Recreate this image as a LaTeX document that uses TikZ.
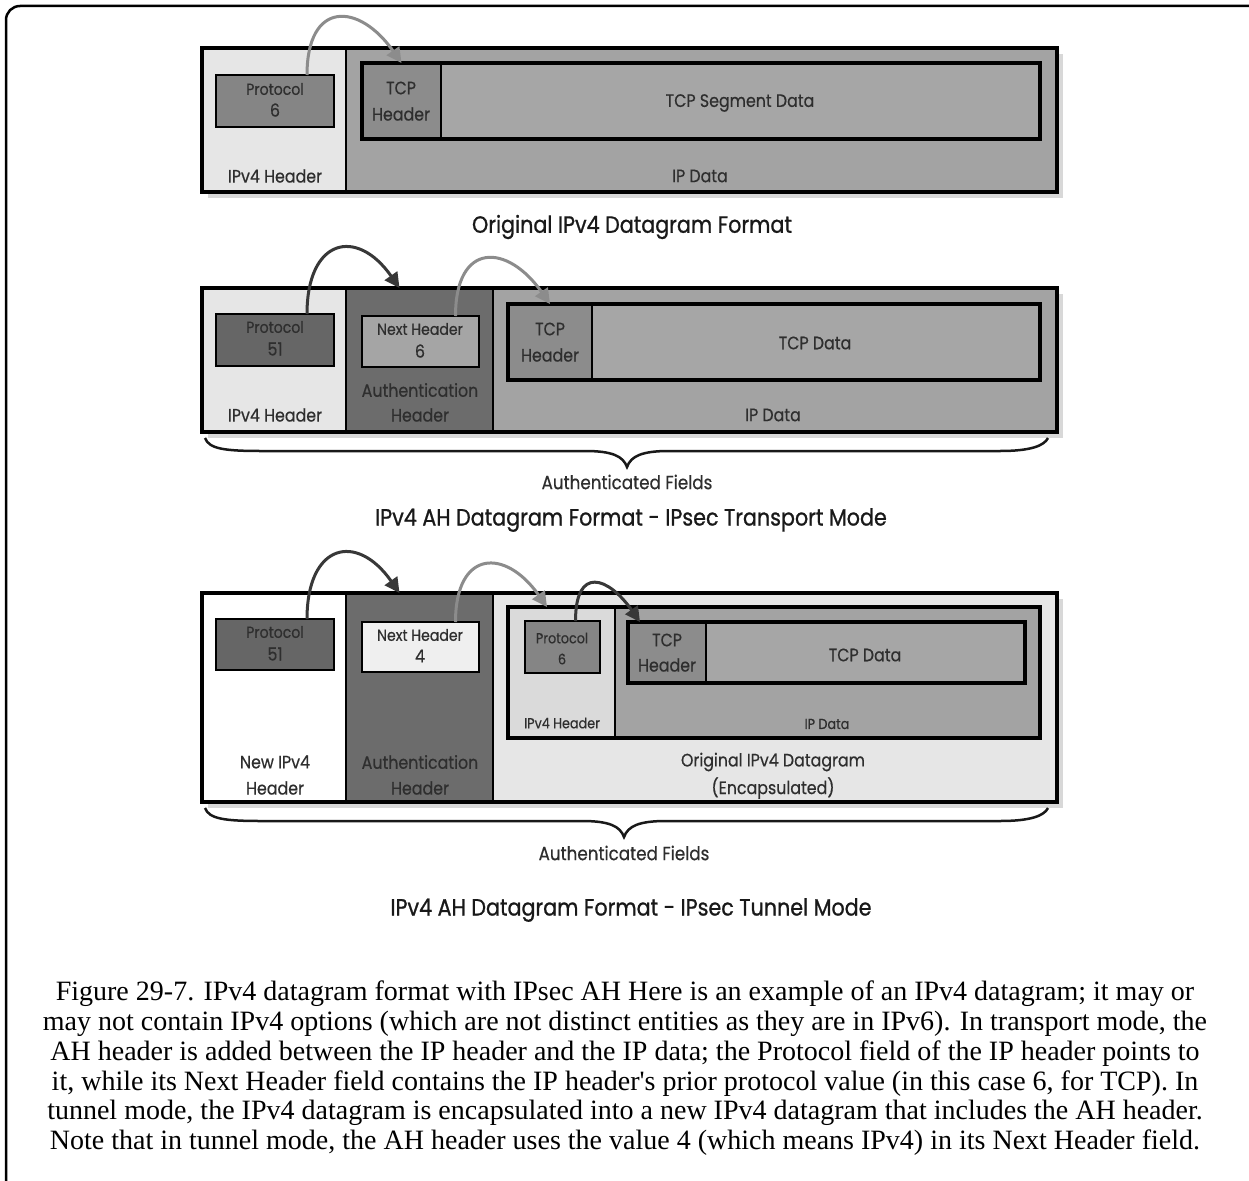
\documentclass[tikz,border=0pt]{standalone}
\usepackage{fontspec}
\setmainfont{Liberation Serif}
\newfontfamily\diagfont[FakeStretch=0.88,FakeBold=0.5]{Poppins}
\newfontfamily\diagtitlefont[FakeStretch=0.88,FakeBold=0.9]{Poppins}
\usetikzlibrary{arrows.meta}
\definecolor{lightg}{HTML}{E6E6E6}
\definecolor{midg}{HTML}{A3A3A3}
\definecolor{tcpg}{HTML}{A6A6A6}
\definecolor{hdrg}{HTML}{8C8C8C}
\definecolor{darkg}{HTML}{6C6C6C}
\definecolor{protog}{HTML}{666666}
\definecolor{protoa}{HTML}{858585}
\definecolor{nhsix}{HTML}{A5A5A5}
\definecolor{nhfour}{HTML}{EFEFEF}
\definecolor{txtg}{HTML}{2E2E2E}
\definecolor{arrdark}{HTML}{383838}
\definecolor{arrlight}{HTML}{8C8C8C}
\definecolor{shadowg}{HTML}{D8D8D8}
\begin{document}
\begin{tikzpicture}[x=1pt,y=-1pt,
 region/.style={draw=black, line width=1.2pt, anchor=north west, inner sep=0pt, outer sep=0pt},
 outerbox/.style={draw=black, line width=3.5pt, anchor=north west, inner sep=0pt, outer sep=0pt},
 field/.style={draw=black, line width=2pt, anchor=north west, inner sep=0pt, outer sep=0pt},
 tcpbox/.style={draw=black, line width=3.2pt, anchor=north west, inner sep=0pt, outer sep=0pt},
 lbl/.style={text=txtg, font=\diagfont\fontsize{18}{20}\selectfont, inner sep=0pt},
 smalllbl/.style={text=txtg, font=\diagfont\fontsize{16}{18}\selectfont, inner sep=0pt},
 tinylbl/.style={text=txtg, font=\diagfont\fontsize{14.5}{16}\selectfont, inner sep=0pt},
 numlbl/.style={text=txtg, font=\diagfont\fontsize{18}{20}\selectfont, inner sep=0pt},
 ttl/.style={text=black!90, font=\diagtitlefont\fontsize{23.5}{26}\selectfont, inner sep=0pt},
 captxt/.style={font=\fontsize{28}{31}\selectfont, inner sep=0pt},
 ptrdark/.style={line width=3pt, draw=arrdark, -{Triangle[length=15pt,width=15pt]}},
 ptrlight/.style={line width=3pt, draw=arrlight, -{Triangle[length=15pt,width=15pt]}},
 bracestyle/.style={line width=2.5pt, draw=black!90}
]
\useasboundingbox (0,0) rectangle (1249,1180);
\fill[white] (0,0) rectangle (1249,1180);
\draw[line width=2.5pt, rounded corners=14pt] (6,1184) -- (6,6) -- (1253,6);

% ---------------- Section 1 ----------------
\fill[shadowg] (208,54) rectangle (1063,198);
\node[region, fill=lightg, minimum width=144, minimum height=144] (hdr1) at (202,48) {};
\node[region, fill=midg, minimum width=711, minimum height=144] (ipd1) at (346,48) {};
\node[outerbox, minimum width=855, minimum height=144] (outer1) at (202,48) {};
\node[field, fill=protoa, minimum width=118, minimum height=52] (proto1) at (216,75) {};
\node[tcpbox, fill=tcpg, minimum width=678, minimum height=76] (tcp1) at (362,63) {};
\node[region, fill=hdrg, minimum width=79, minimum height=76] (tcph1) at (362,63) {};
\node[tcpbox, minimum width=678, minimum height=76] (tcp1b) at (362,63) {};
\node[smalllbl] (p1a) at (275,89) {Protocol};
\node[numlbl] (p1b) at (275,110) {6};
\node[lbl] (t1a) at (401,88) {TCP};
\node[lbl] (t1b) at (401,114) {Header};
\node[lbl] (t1c) at (740,103) {TCP Segment Data};
\node[lbl] (h1) at (275,176) {IPv4 Header};
\node[lbl] (d1) at (700,176) {IP Data};
\node[ttl] (title1) at (632,227) {Original IPv4 Datagram Format};
\draw[ptrlight] ([xshift=32pt]proto1.north) to[out=90,in=125,looseness=2] (tcph1.north);

% ---------------- Section 2 ----------------
\fill[shadowg] (208,294) rectangle (1063,438);
\node[region, fill=lightg, minimum width=144, minimum height=144] (hdr2) at (202,288) {};
\node[region, fill=darkg, minimum width=147, minimum height=144] (ah2) at (346,288) {};
\node[region, fill=midg, minimum width=564, minimum height=144] (ipd2) at (493,288) {};
\node[outerbox, minimum width=855, minimum height=144] (outer2) at (202,288) {};
\node[field, fill=protog, minimum width=118, minimum height=52] (proto2) at (216,314) {};
\node[field, fill=nhsix, minimum width=117, minimum height=51] (nh2) at (362,316) {};
\node[tcpbox, fill=tcpg, minimum width=532, minimum height=76] (tcp2) at (508,304) {};
\node[region, fill=hdrg, minimum width=84, minimum height=76] (tcph2) at (508,304) {};
\node[tcpbox, minimum width=532, minimum height=76] (tcp2b) at (508,304) {};
\node[smalllbl] (p2a) at (275,327) {Protocol};
\node[numlbl] (p2b) at (275,349) {51};
\node[smalllbl] (n2a) at (420,329) {Next Header};
\node[numlbl] (n2b) at (420,351) {6};
\node[lbl] (a2a) at (420,390) {Authentication};
\node[lbl] (a2b) at (420,415) {Header};
\node[lbl] (h2) at (275,415) {IPv4 Header};
\node[lbl] (t2a) at (550,329) {TCP};
\node[lbl] (t2b) at (550,355) {Header};
\node[lbl] (t2c) at (815,343) {TCP Data};
\node[lbl] (d2) at (773,415) {IP Data};
\draw[ptrdark] ([xshift=32pt]proto2.north) to[out=90,in=125,looseness=2] ([xshift=-20pt]ah2.north);
\draw[ptrlight] ([xshift=35pt]nh2.north) to[out=90,in=125,looseness=2] (tcph2.north);
\draw[bracestyle] (205,438) .. controls (209,449) and (225,451) .. (262,451) -- (585,451) .. controls (612,451) and (623,456) .. (627,467) .. controls (631,456) and (642,451) .. (669,451) -- (1000,451) .. controls (1030,451) and (1044,446) .. (1048,438);
\node[lbl, font=\diagfont\fontsize{19}{21}\selectfont] (auth2) at (627,482) {Authenticated Fields};
\node[ttl] (title2) at (631,520) {IPv4 AH Datagram Format - IPsec Transport Mode};

% ---------------- Section 3 ----------------
\fill[shadowg] (208,599) rectangle (1063,808);
\node[region, fill=white, minimum width=144, minimum height=209] (nhdr3) at (202,593) {};
\node[region, fill=darkg, minimum width=147, minimum height=209] (ah3) at (346,593) {};
\node[region, fill=lightg, minimum width=564, minimum height=209] (orig3) at (493,593) {};
\node[outerbox, minimum width=855, minimum height=209] (outer3) at (202,593) {};
\node[field, fill=protog, minimum width=118, minimum height=51] (proto3) at (216,619) {};
\node[field, fill=nhfour, minimum width=117, minimum height=50] (nh3) at (362,622) {};
\node[region, fill=lightg!95!black, minimum width=107, minimum height=131] (ihdr3) at (508,607) {};
\node[region, fill=midg, minimum width=425, minimum height=131] (iipd3) at (615,607) {};
\node[tcpbox, minimum width=532, minimum height=131] (inner3) at (508,607) {};
\node[field, fill=protoa, minimum width=75, minimum height=52] (iproto3) at (525,621) {};
\node[tcpbox, fill=tcpg, minimum width=397, minimum height=61] (tcp3) at (628,622) {};
\node[region, fill=hdrg, minimum width=78, minimum height=61] (tcph3) at (628,622) {};
\node[tcpbox, minimum width=397, minimum height=61] (tcp3b) at (628,622) {};
\node[smalllbl] (p3a) at (275,632) {Protocol};
\node[numlbl] (p3b) at (275,654) {51};
\node[smalllbl] (n3a) at (420,635) {Next Header};
\node[numlbl] (n3b) at (420,656) {4};
\node[tinylbl] (ip3a) at (562,638) {Protocol};
\node[tinylbl] (ip3b) at (562,659) {6};
\node[tinylbl] (ih3) at (562,723) {IPv4 Header};
\node[lbl] (t3a) at (667,640) {TCP};
\node[lbl] (t3b) at (667,665) {Header};
\node[lbl] (t3c) at (865,655) {TCP Data};
\node[tinylbl] (d3) at (827,724) {IP Data};
\node[lbl] (nh3a) at (275,762) {New IPv4};
\node[lbl] (nh3b) at (275,788) {Header};
\node[lbl] (a3a) at (420,762) {Authentication};
\node[lbl] (a3b) at (420,788) {Header};
\node[lbl] (o3a) at (773,762) {Original IPv4 Datagram};
\node[lbl] (o3b) at (773,788) {(Encapsulated)};
\draw[ptrdark] ([xshift=32pt]proto3.north) to[out=90,in=125,looseness=2] ([xshift=-20pt]ah3.north);
\draw[ptrlight] ([xshift=35pt]nh3.north) to[out=90,in=125,looseness=2] ([xshift=39pt]inner3.north west);
\draw[ptrdark] ([xshift=13pt]iproto3.north) to[out=90,in=125,looseness=2.2] ([xshift=-27pt]tcph3.north);
\draw[bracestyle] (205,808) .. controls (209,819) and (225,821) .. (262,821) -- (582,821) .. controls (609,821) and (620,826) .. (624,837) .. controls (628,826) and (639,821) .. (666,821) -- (1000,821) .. controls (1030,821) and (1044,816) .. (1048,808);
\node[lbl, font=\diagfont\fontsize{19}{21}\selectfont] (auth3) at (624,853) {Authenticated Fields};
\node[ttl] (title3) at (631,910) {IPv4 AH Datagram Format - IPsec Tunnel Mode};

% ---------------- Caption ----------------
\node[captxt] (cap1) at (625,994) {Figure 29-7. IPv4 datagram format with IPsec AH Here is an example of an IPv4 datagram; it may or};
\node[captxt] (cap2) at (625,1024) {may not contain IPv4 options (which are not distinct entities as they are in IPv6). In transport mode, the};
\node[captxt] (cap3) at (625,1054) {AH header is added between the IP header and the IP data; the Protocol field of the IP header points to};
\node[captxt] (cap4) at (625,1084) {it, while its Next Header field contains the IP header\textquotesingle s prior protocol value (in this case 6, for TCP). In};
\node[captxt] (cap5) at (625,1113) {tunnel mode, the IPv4 datagram is encapsulated into a new IPv4 datagram that includes the AH header.};
\node[captxt] (cap6) at (625,1143) {Note that in tunnel mode, the AH header uses the value 4 (which means IPv4) in its Next Header field.};
\end{tikzpicture}
\end{document}
